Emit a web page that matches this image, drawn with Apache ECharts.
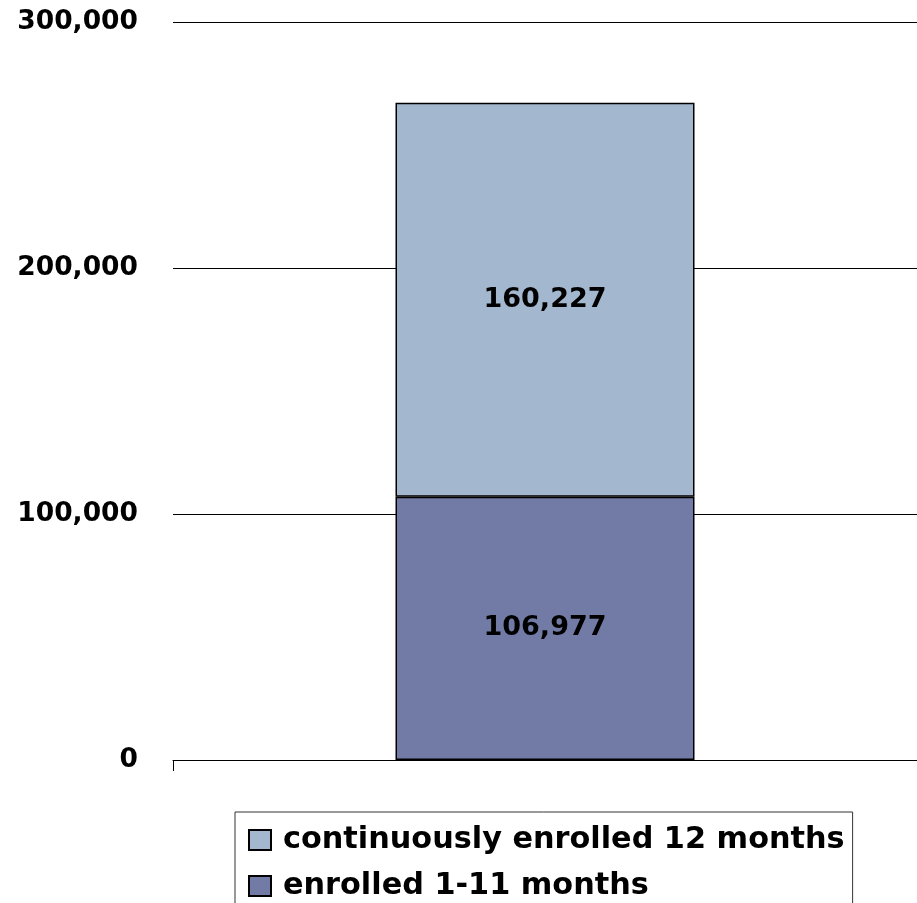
<!DOCTYPE html>
<html>
<head>
<meta charset="utf-8">
<script src="https://cdn.jsdelivr.net/npm/echarts@6/dist/echarts.min.js"></script>
<style>
  html, body { margin: 0; padding: 0; background: #fff; }
  #chart { width: 917px; height: 903px; }
</style>
</head>
<body>
<div id="chart"></div>
<script>
const categories = [''];
const enrolledPartial = [106977];
const enrolledFull = [160227];
const yTicks = [0, 100000, 200000, 300000];

const fmt = (v) => Number(v).toLocaleString('en-US');

const chart = echarts.init(document.getElementById('chart'), null, { renderer: 'canvas' });

const font = '"DejaVu Sans", Verdana, sans-serif';

const barLabel = {
  show: true,
  position: 'inside',
  formatter: (p) => fmt(p.value),
  fontFamily: font,
  fontWeight: 'bold',
  fontSize: 27,
  color: '#000',
};

chart.setOption({
  backgroundColor: '#ffffff',
  animation: false,
  grid: {
    left: 173,
    right: 0,
    top: 22,
    bottom: 143,
  },
  legend: {
    orient: 'vertical',
    left: 235,
    top: 812,
    height: 100,
    padding: [13, 8, 13, 13],
    itemWidth: 22,
    itemHeight: 20,
    itemGap: 16,
    borderColor: '#333',
    borderWidth: 1,
    icon: 'rect',
    textStyle: {
      fontFamily: font,
      fontWeight: 'bold',
      fontSize: 30.3,
      lineHeight: 26,
      color: '#000',
      padding: [0, 0, 0, 7],
    },
    data: ['continuously enrolled 12 months', 'enrolled 1-11 months'],
  },
  xAxis: {
    type: 'category',
    data: categories,
    axisLine: { lineStyle: { color: '#000', width: 1 } },
    axisTick: { show: true, length: 11, lineStyle: { color: '#000' } },
    axisLabel: { show: false },
  },
  yAxis: {
    type: 'value',
    min: yTicks[0],
    max: yTicks[yTicks.length - 1],
    interval: yTicks[1] - yTicks[0],
    axisLine: { show: false },
    axisTick: { show: false },
    splitLine: { lineStyle: { color: '#000', width: 1 } },
    axisLabel: {
      margin: 35,
      formatter: (v) => fmt(v),
      fontFamily: font,
      fontWeight: 'bold',
      fontSize: 26.5,
      color: '#000',
    },
  },
  series: [
    {
      name: 'enrolled 1-11 months',
      type: 'bar',
      stack: 'total',
      barWidth: 299,
      data: enrolledPartial,
      itemStyle: { color: '#727ba5', borderColor: '#000', borderWidth: 1.5 },
      label: barLabel,
    },
    {
      name: 'continuously enrolled 12 months',
      type: 'bar',
      stack: 'total',
      barWidth: 299,
      data: enrolledFull,
      itemStyle: { color: '#a3b8cf', borderColor: '#000', borderWidth: 1.5 },
      label: barLabel,
    },
  ],
});
</script>
</body>
</html>
